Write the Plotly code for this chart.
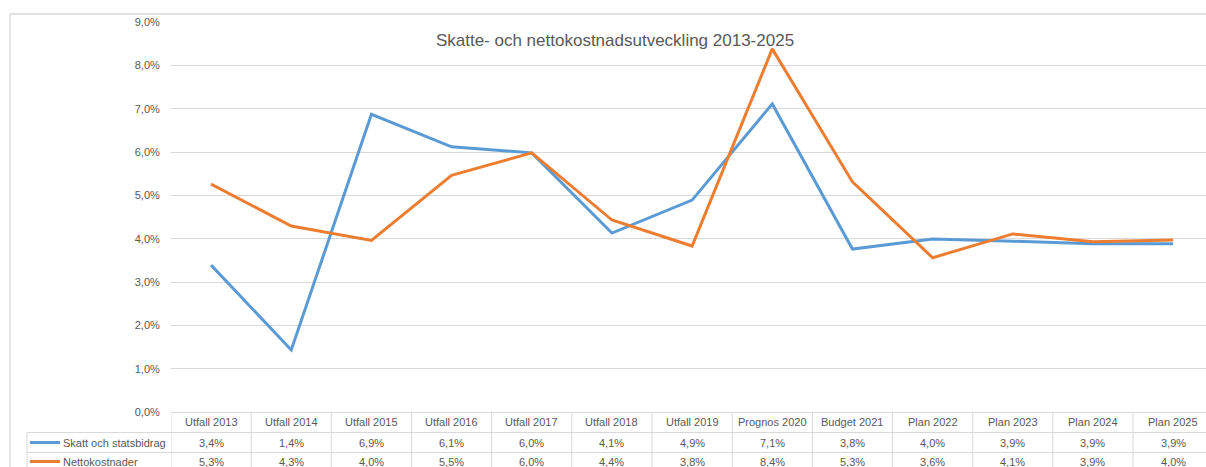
import plotly.graph_objects as go

categories = ["Utfall 2013", "Utfall 2014", "Utfall 2015", "Utfall 2016", "Utfall 2017",
              "Utfall 2018", "Utfall 2019", "Prognos 2020", "Budget 2021", "Plan 2022",
              "Plan 2023", "Plan 2024", "Plan 2025"]
skatt = [3.39, 1.43, 6.87, 6.12, 5.98, 4.13, 4.89, 7.11, 3.76, 3.99, 3.94, 3.88, 3.88]
netto = [5.26, 4.29, 3.96, 5.46, 5.98, 4.43, 3.83, 8.38, 5.31, 3.56, 4.11, 3.93, 3.97]
series_names = ["Skatt och statsbidrag", "Nettokostnader"]
y_ticks = [0, 1, 2, 3, 4, 5, 6, 7, 8, 9]
title_text = "Skatte- och nettokostnadsutveckling 2013-2025"

BLUE = "#5B9BD5"
ORANGE = "#ED7D31"
GRID = "#D9D9D9"
TXT = "#595959"
FONT = "Liberation Sans, Arial, sans-serif"

W, H = 1206, 467
ML, MR, MT, MB = 171, 0, 22, 55
plot_w = W - ML - MR
plot_h = H - MT - MB


def px_x(px):
    return (px - ML) / plot_w


def px_y(py):
    return (H - MB - py) / plot_h


def fmt(v):
    return f"{v:.1f}".replace(".", ",") + "%"


xs = list(range(len(categories)))
cat_w = 80.17
x_max = -0.5 + plot_w / cat_w

fig = go.Figure()
fig.add_trace(go.Scatter(x=xs, y=skatt, mode="lines", name=series_names[0],
                         line=dict(color=BLUE, width=3)))
fig.add_trace(go.Scatter(x=xs, y=netto, mode="lines", name=series_names[1],
                         line=dict(color=ORANGE, width=3)))

shapes = []
annotations = []

# chart border
shapes.append(dict(type="rect", xref="paper", yref="paper",
                   x0=px_x(10), x1=px_x(1230), y0=px_y(490), y1=px_y(14),
                   line=dict(color=GRID, width=1.3), layer="below"))

# table lines
row_lines_y = [412.5, 432.5, 452.5]
for i, py in enumerate(row_lines_y):
    x0 = px_x(171) if i == 0 else px_x(27)
    shapes.append(dict(type="line", xref="paper", yref="paper",
                       x0=x0, x1=px_x(1230), y0=px_y(py), y1=px_y(py),
                       line=dict(color=GRID, width=1)))
shapes.append(dict(type="line", xref="paper", yref="paper",
                   x0=px_x(27), x1=px_x(27), y0=px_y(432.5), y1=px_y(480),
                   line=dict(color=GRID, width=1)))
for i in range(len(categories) + 1):
    shapes.append(dict(type="line", xref="x", yref="paper",
                       x0=i - 0.5, x1=i - 0.5, y0=px_y(412.5), y1=px_y(480),
                       line=dict(color=GRID, width=1)))

# table texts
for i, c in enumerate(categories):
    annotations.append(dict(x=i, y=px_y(422), xref="x", yref="paper", text=c,
                            showarrow=False, xanchor="center", yanchor="middle",
                            font=dict(size=11, color=TXT, family=FONT)))
    annotations.append(dict(x=i, y=px_y(442.5), xref="x", yref="paper", text=fmt(skatt[i]),
                            showarrow=False, xanchor="center", yanchor="middle",
                            font=dict(size=11, color=TXT, family=FONT)))
    annotations.append(dict(x=i, y=px_y(461.5), xref="x", yref="paper", text=fmt(netto[i]),
                            showarrow=False, xanchor="center", yanchor="middle",
                            font=dict(size=11, color=TXT, family=FONT)))

# legend keys in table
for name, col, py in [(series_names[0], BLUE, 442.5), (series_names[1], ORANGE, 461.5)]:
    shapes.append(dict(type="line", xref="paper", yref="paper",
                       x0=px_x(30), x1=px_x(60), y0=px_y(py), y1=px_y(py),
                       line=dict(color=col, width=3)))
    annotations.append(dict(x=px_x(61), y=px_y(py), xref="paper", yref="paper", text=name,
                            showarrow=False, xanchor="left", yanchor="middle",
                            font=dict(size=11, color=TXT, family=FONT)))

fig.update_layout(
    width=W, height=H,
    margin=dict(l=ML, r=MR, t=MT, b=MB, pad=0),
    paper_bgcolor="white", plot_bgcolor="white",
    showlegend=False,
    title=dict(text=title_text, x=615 / W, xanchor="center",
               y=1 - 40 / H, yanchor="middle",
               font=dict(size=17, color=TXT, family=FONT)),
    xaxis=dict(range=[-0.5, x_max], showgrid=False, showticklabels=False,
               zeroline=False, showline=False, ticks=""),
    yaxis=dict(range=[0, 9], tickvals=y_ticks, ticktext=[fmt(v) for v in y_ticks],
               showgrid=True, gridcolor=GRID, gridwidth=1, zeroline=False,
               showline=False, ticks="outside", ticklen=8, tickcolor="rgba(0,0,0,0)",
               tickfont=dict(size=11, color=TXT, family=FONT)),
    shapes=shapes,
    annotations=annotations,
)

fig.write_html("out.html", config={"displayModeBar": False},
               post_script="document.body.style.margin='0';document.body.style.overflow='hidden';")
